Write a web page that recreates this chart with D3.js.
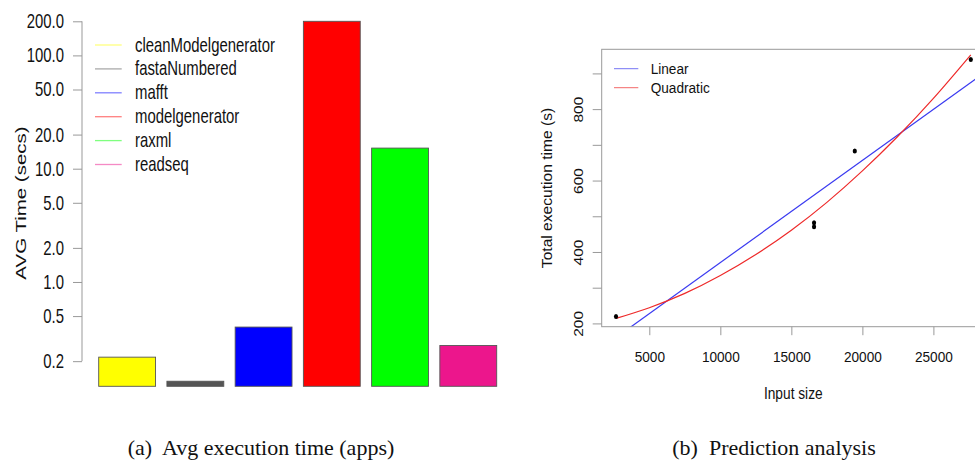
<!DOCTYPE html>
<html>
<head>
<meta charset="utf-8">
<script src="https://cdnjs.cloudflare.com/ajax/libs/d3/7.8.5/d3.min.js"></script>
<style>
  body { margin: 0; background: #fff; }
  svg { display: block; }
  text { font-family: "Liberation Sans", Arial, Helvetica, sans-serif; fill: #111; }
  .caption { font-family: "Liberation Serif", "Times New Roman", serif; font-size: 22px; white-space: pre; }
</style>
</head>
<body>
<div id="chart"></div>
<script>
// Data
var apps = ['cleanModelgenerator', 'fastaNumbered', 'mafft', 'modelgenerator', 'raxml', 'readseq'];
var avgTime = [0.217, 0.133, 0.40, 200, 15.2, 0.275];
var appColors = ['#ffff00', '#555555', '#0000ff', '#ff0000', '#00ff00', '#ec168c'];
var logTicks = [0.2, 0.5, 1, 2, 5, 10, 20, 50, 100, 200];

var inputSize = [2655, 16598, 16598, 19465, 27634];
var execTime = [219.6, 471, 482, 683, 938.7];
var linearX = [1648, 28633];
var linearY = [131.5, 903.3];
var quadX = [2655, 5000, 7500, 10000, 12500, 15000, 17500, 20000, 22500, 25000, 27634];
var quadY = [214, 244, 284, 334, 393, 461, 539, 627, 724, 830, 952];
var xTicks = [5000, 10000, 15000, 20000, 25000];
var yTicks = [200, 300, 400, 500, 600, 700, 800, 900];
var fitNames = ['Linear', 'Quadratic'];
var fitColors = ['#3a3af0', '#ee2a2a'];

var W = 975, H = 462;
var svg = d3.select('#chart').append('svg')
  .attr('width', W)
  .attr('height', H);

// squash text horizontally, the panels were shrunk sideways in the original
function squash(sel, sx) {
  sel.each(function() {
    var t = d3.select(this);
    var x = +(t.attr('x') || 0);
    t.attr('x', x / sx).attr('transform', 'scale(' + sx + ',1)');
  });
}

// Left panel: bar chart on log scale
  var sxL = 0.745;
  var left = svg.append('g');

  var y = d3.scaleLog().domain([0.12, 200]).range([386.3, 21.3]);
  var x = d3.scaleBand().domain(apps).range([98.7, 496.7])
    .paddingInner(0.1667).paddingOuter(0);

  left.selectAll('rect.bar')
    .data(apps)
    .join('rect')
      .attr('class', 'bar')
      .attr('x', d => x(d))
      .attr('width', x.bandwidth())
      .attr('y', (d, i) => y(avgTime[i]))
      .attr('height', (d, i) => y.range()[0] - y(avgTime[i]))
      .attr('fill', (d, i) => appColors[i])
      .attr('stroke', '#555')
      .attr('stroke-width', 0.9);

  var yAxisL = left.append('g')
    .attr('transform', 'translate(82,0)')
    .call(d3.axisLeft(y).tickValues(logTicks).tickFormat(d3.format('.1f'))
      .tickSize(9).tickPadding(9).tickSizeOuter(0));
  yAxisL.select('.domain').remove();
  yAxisL.append('line')
    .attr('y1', y(logTicks[0])).attr('y2', y(logTicks[logTicks.length - 1]))
    .attr('stroke', '#999');
  yAxisL.selectAll('.tick line').attr('stroke', '#999');
  yAxisL.selectAll('.tick text')
    .attr('fill', '#111')
    .style('font-size', '20px')
    .style('font-family', '"Liberation Sans", Arial, sans-serif')
    .call(squash, sxL);

  left.append('text')
    .attr('transform', 'translate(26,203) scale(' + sxL + ',1) rotate(-90)')
    .attr('text-anchor', 'middle')
    .style('font-size', '20.5px')
    .text('AVG Time (secs)');

  // legend
  var legL = left.selectAll('g.leg')
    .data(apps)
    .join('g')
      .attr('class', 'leg')
      .attr('transform', (d, i) => 'translate(0,' + (45 + i * 23.9) + ')');
  legL.append('line')
    .attr('x1', 95).attr('x2', 121.7)
    .attr('stroke', (d, i) => appColors[i])
    .attr('stroke-opacity', 0.5)
    .attr('stroke-width', 1.3);
  legL.append('text')
    .attr('x', 135).attr('y', 6.5)
    .style('font-size', '20px')
    .text(d => d)
    .call(squash, sxL);

// Right panel: scatter with fitted lines
  var sxR = 0.88;
  var right = svg.append('g');

  var px = d3.scaleLinear().domain([1648, 28633]).range([601.7, 985]);
  var py = d3.scaleLinear().domain([190.8, 967.5]).range([326.7, 49.3]);

  right.append('clipPath').attr('id', 'plotclip')
    .append('rect')
      .attr('x', px.range()[0]).attr('y', py.range()[1])
      .attr('width', px.range()[1] - px.range()[0])
      .attr('height', py.range()[0] - py.range()[1]);

  var plot = right.append('g').attr('clip-path', 'url(#plotclip)');

  var line = d3.line().x(d => px(d[0])).y(d => py(d[1]));
  plot.append('path')
    .datum(linearX.map((v, i) => [v, linearY[i]]))
    .attr('d', line)
    .attr('fill', 'none')
    .attr('stroke', fitColors[0])
    .attr('stroke-width', 1.2);
  plot.append('path')
    .datum(quadX.map((v, i) => [v, quadY[i]]))
    .attr('d', line.curve(d3.curveNatural))
    .attr('fill', 'none')
    .attr('stroke', fitColors[1])
    .attr('stroke-width', 1.2);

  plot.selectAll('ellipse')
    .data(inputSize)
    .join('ellipse')
      .attr('cx', d => px(d))
      .attr('cy', (d, i) => py(execTime[i]))
      .attr('rx', 2.1)
      .attr('ry', 2.5)
      .attr('fill', '#000');

  right.append('rect')
    .attr('x', px.range()[0]).attr('y', py.range()[1])
    .attr('width', px.range()[1] - px.range()[0])
    .attr('height', py.range()[0] - py.range()[1])
    .attr('fill', 'none')
    .attr('stroke', '#999');

  var xAxisR = right.append('g')
    .attr('transform', 'translate(0,326.7)')
    .call(d3.axisBottom(px).tickValues(xTicks).tickFormat(d3.format('d'))
      .tickSize(8.5).tickPadding(15.5).tickSizeOuter(0));
  xAxisR.select('.domain').remove();
  xAxisR.selectAll('.tick line').attr('stroke', '#999');
  xAxisR.selectAll('.tick text')
    .attr('fill', '#111')
    .style('font-size', '15.5px')
    .style('font-family', '"Liberation Sans", Arial, sans-serif')
    .call(squash, sxR);

  var yAxisR = right.append('g')
    .attr('transform', 'translate(601.7,0)')
    .call(d3.axisLeft(py).tickValues(yTicks).tickFormat(d => d % 200 === 0 ? d : '')
      .tickSize(9).tickSizeOuter(0));
  yAxisR.select('.domain').remove();
  yAxisR.selectAll('.tick line').attr('stroke', '#999');
  yAxisR.selectAll('.tick text')
    .attr('x', 0).attr('dy', '0.35em')
    .attr('text-anchor', 'middle')
    .attr('fill', '#111')
    .attr('transform', 'translate(-23.4,0) scale(' + sxR + ',1) rotate(-90)')
    .style('font-size', '15.5px')
    .style('font-family', '"Liberation Sans", Arial, sans-serif');

  right.append('text')
    .attr('transform', 'translate(551.7,188) scale(' + sxR + ',1) rotate(-90)')
    .attr('text-anchor', 'middle')
    .style('font-size', '15.6px')
    .text('Total execution time (s)');

  right.append('text')
    .attr('transform', 'translate(793.3,399) scale(' + sxR + ',1)')
    .attr('text-anchor', 'middle')
    .style('font-size', '15.6px')
    .text('Input size');

  var legR = right.selectAll('g.legr')
    .data(fitNames)
    .join('g')
      .attr('class', 'legr')
      .attr('transform', (d, i) => 'translate(0,' + (68.7 + i * 19) + ')');
  legR.append('line')
    .attr('x1', 614).attr('x2', 638.3)
    .attr('stroke', (d, i) => fitColors[i])
    .attr('stroke-opacity', 0.7);
  legR.append('text')
    .attr('x', 650.7).attr('y', 5.6)
    .style('font-size', '15.5px')
    .text(d => d)
    .call(squash, sxR);

// Captions
  svg.append('text').attr('class', 'caption')
    .attr('x', 261).attr('y', 455).attr('text-anchor', 'middle')
    .text('(a)  Avg execution time (apps)');
  svg.append('text').attr('class', 'caption')
    .attr('x', 774).attr('y', 455).attr('text-anchor', 'middle')
    .text('(b)  Prediction analysis');
</script>
</body>
</html>
